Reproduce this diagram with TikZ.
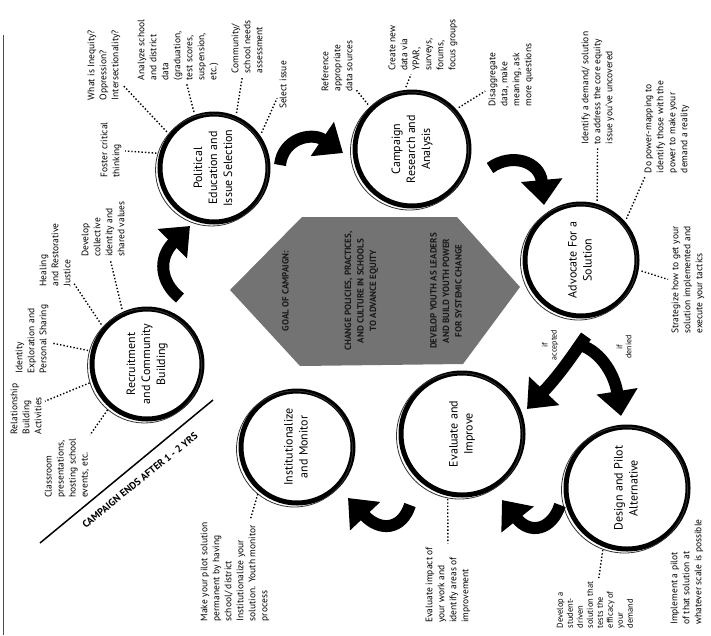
\documentclass[tikz,border=0pt]{standalone}
\usepackage{fontspec}
\setmainfont{PT Sans}
\usetikzlibrary{arrows.meta}
\newcommand{\rottext}[1]{\rotatebox{90}{\begin{tabular}{@{}c@{}}#1\end{tabular}}}
\begin{document}
\begin{tikzpicture}[x=1pt,y=-1pt,
  lab/.style={rotate=90, align=left, inner sep=1.5pt, font=\fontsize{9.5}{12}\selectfont},
  labc/.style={lab, align=center},
  ring/.style={circle, draw=black, line width=5pt, inner sep=0pt, font=\fontsize{12}{15}\selectfont},
  sketch/.style={line width=0.8pt, black!80},
  dotl/.style={dotted, line width=1.4pt, shorten <=3pt, shorten >=2pt},
  bigarr/.style={line width=12pt, -{Triangle[length=25pt,width=40pt]}},
  hexlab/.style={rotate=90, align=center, inner sep=0pt, text=black!90, font=\bfseries\fontsize{9}{12.5}\selectfont}
]
\useasboundingbox (0,0) rectangle (711,635);
\fill[white] (0,0) rectangle (711,635);
\draw[line width=1pt, black!70] (3,35) -- (3,635);

% central hexagon
\fill[black!55] (230,290) -- (302,217) -- (457,217) -- (520,287) -- (463,364) -- (300,366) -- cycle;
\node[hexlab] (goal) at (372,291) {GOAL OF CAMPAIGN:\\[50pt]
CHANGE POLICIES, PRACTICES,\\ AND CULTURE IN SCHOOLS\\ TO ADVANCE EQUITY\\[48pt]
DEVELOP YOUTH AS LEADERS\\ AND BUILD YOUTH POWER\\ FOR SYSTEMIC CHANGE};

% circles
\node[ring, minimum size=110pt] (rec) at (147,364) {\rottext{Recruitment\\and Community\\Building}};
\node[ring, minimum size=108pt] (pol) at (214,168) {\rottext{Political\\Education and\\Issue Selection}};
\node[ring, minimum size=114pt] (camp) at (412,149) {\rottext{Campaign\\Research and\\Analysis}};
\node[ring, minimum size=112pt] (adv) at (581,260) {\rottext{Advocate For a\\Solution}};
\node[ring, minimum size=122pt] (des) at (627,488) {\rottext{Design and Pilot\\Alternative}};
\node[ring, minimum size=122pt] (eval) at (462,434) {\rottext{Evaluate and\\Improve}};
\node[ring, minimum size=112pt] (inst) at (297,447) {\rottext{Institutionalize\\and Monitor}};

% sketchy extra strokes
\draw[sketch] ([shift={(-2.5,2)}]rec.center) circle[radius=57];
\draw[sketch] ([shift={(-2.5,2)}]pol.center) circle[radius=56];
\draw[sketch] ([shift={(-2.5,2)}]camp.center) circle[radius=59];
\draw[sketch] ([shift={(-2.5,2)}]adv.center) circle[radius=58];
\draw[sketch] ([shift={(-2.5,2)}]des.center) circle[radius=63];
\draw[sketch] ([shift={(-2.5,2)}]eval.center) circle[radius=63];
\draw[sketch] ([shift={(-2.5,2)}]inst.center) circle[radius=58];

% labels
\node[lab] (lwhat) at (104,65) {What is Inequity?\\Oppression?\\Intersectionality?};
\node[lab] (lanalyze) at (178,50) {Analyze school\\and district\\data\\(graduation,\\test scores,\\suspension,\\etc.)};
\node[lab] (lcomm) at (247,47) {Community/\\school needs\\assessment};
\node[lab] (lselect) at (283,85) {Select issue};
\node[lab] (lref) at (337,66) {Reference\\appropriate\\data sources};
\node[lab] (lcreate) at (423,45) {Create new\\data via\\YPAR,\\surveys,\\forums,\\focus groups};
\node[lab] (ldisagg) at (511,75) {Disaggregate\\data, make\\meaning, ask\\more questions};
\node[lab] (lidentify) at (598,88) {Identify a demand/ solution\\to address the core equity\\issue you've uncovered};
\node[lab] (lpower) at (667,127) {Do power-mapping to\\identify those with the\\power to make your\\demand a reality};
\node[lab] (lstrat) at (688,280) {Strategize how to get your\\solution implemented and\\execute your tactics};
\node[labc, font=\fontsize{8}{9}\selectfont] (lacc) at (550,345) {if\\accepted};
\node[labc, font=\fontsize{8}{9}\selectfont] (lden) at (624,347) {if\\denied};
\node[lab, font=\fontsize{8.5}{10}\selectfont] (ldevelop) at (595,605) {Develop a\\student-\\driven\\solution that\\tests the\\efficacy of\\your\\demand};
\node[lab] (limpl) at (687,572) {Implement a pilot\\of that solution at\\whatever scale is possible};
\node[lab] (levalimp) at (448,585) {Evaluate impact of\\your work and\\identify areas of\\improvement};
\node[lab] (lmake) at (235,572) {Make your pilot solution\\permanent by having\\school/ district\\Institutionalize your\\solution. Youth monitor\\process};
\node[lab] (lrel) at (26,409) {Relationship\\Building\\Activities};
\node[lab] (lidentity) at (32,339) {Identity\\Exploration and\\Personal Sharing};
\node[lab] (lclass) at (67,468) {Classroom\\presentations,\\hosting school\\events, etc.};
\node[lab] (lheal) at (55,255) {Healing\\and Restorative\\Justice};
\node[lab] (ldev) at (103,229) {Develop\\collective\\identity and\\shared values};
\node[lab] (lfoster) at (111,150) {Foster critical\\thinking};

% dotted connectors
\draw[dotl] (rec.198) -- (lrel);
\draw[dotl] (rec.167) -- (lidentity);
\draw[dotl] (rec.229) -- (lclass);
\draw[dotl] (rec.140) -- (lheal);
\draw[dotl] (rec.115) -- (ldev);
\draw[dotl] (pol.165) -- (lfoster);
\draw[dotl] (pol.143) -- (lwhat);
\draw[dotl] (pol.110) -- (lanalyze);
\draw[dotl] (pol.67) -- (lcomm);
\draw[dotl] (pol.35) -- (lselect);
\draw[dotl] (camp.135) -- (lref);
\draw[dotl] (camp.97) -- (lcreate);
\draw[dotl] (camp.42) -- (ldisagg);
\draw[dotl] (adv.74) -- (lidentify);
\draw[dotl] (adv.41) -- (lpower);
\draw[dotl] (adv.-10) -- (lstrat.north);
\draw[dotl] (des.-112) -- (ldevelop);
\draw[dotl] (eval.-103) -- (levalimp);
\draw[dotl] (inst.-131) -- (lmake);

% big curved arrows
\coordinate (a1s) at (180,298); \coordinate (a1e) at (190,226);
\coordinate (a2s) at (280,165); \coordinate (a2e) at (343,153);
\coordinate (a3s) at (490,168); \coordinate (a3e) at (544,205);
\coordinate (a4s) at (586,336); \coordinate (a4e) at (527,409);
\coordinate (a5s) at (576,344); \coordinate (a5e) at (621,416);
\coordinate (a6s) at (560,505); \coordinate (a6e) at (502,500);
\coordinate (a7s) at (410,505); \coordinate (a7e) at (348,498);
\draw[bigarr] (a1s) .. controls (160,282) and (158,258) .. (a1e);
\draw[bigarr] (a2s) .. controls (283,138) and (312,132) .. (a2e);
\draw[bigarr] (a3s) .. controls (512,152) and (540,162) .. (a3e);
\draw[bigarr] (a4s) .. controls (576,350) and (562,372) .. (a4e);
\draw[bigarr] (a5s) .. controls (598,348) and (614,372) .. (a5e);
\draw[bigarr] (a6s) .. controls (552,530) and (530,535) .. (a6e);
\draw[bigarr] (a7s) .. controls (402,530) and (380,532) .. (a7e);

% campaign end line
\coordinate (cl1) at (40,543); \coordinate (cl2) at (213,400);
\draw[line width=1.5pt] (cl1) -- (cl2);
\node[rotate=39, font=\bfseries\fontsize{10}{12}\selectfont, inner sep=0pt] (cend) at (140,480) {CAMPAIGN ENDS AFTER 1 - 2 YRS};
\end{tikzpicture}
\end{document}
